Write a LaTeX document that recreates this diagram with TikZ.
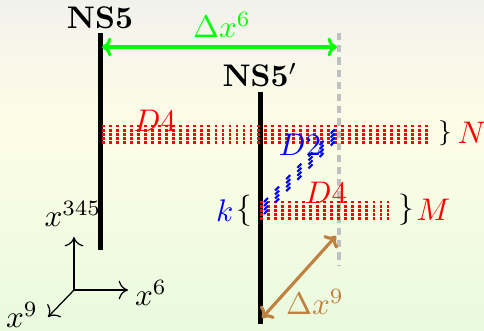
\documentclass[tikz,border=0pt]{standalone}
\usepackage{amsmath}
\usepackage{tikz}
\usepackage{xcolor}
\usetikzlibrary{positioning, arrows.meta, calc}
\definecolor{bgTop}{RGB}{242,242,237}
\definecolor{bgMid}{RGB}{253,253,230}
\definecolor{bgBot}{RGB}{233,250,222}
\definecolor{ghostGray}{RGB}{192,192,192}

\begin{document}
\begin{tikzpicture}[
  x=0.32pt, y=-0.32pt,
  >={To[length=3pt, width=6pt]},
  brane/.style={line width=1.6pt},
  dfour/.style={red, line width=0.9pt, dash pattern=on 0.9pt off 1.35pt},
  dtwo/.style={blue, line width=0.68pt, dash pattern=on 1.8pt off 3.3pt},
  tag/.style={inner sep=0pt},
]
  % Background
  \shade[top color=bgTop, bottom color=bgMid] (0,0) rectangle (484,130);
  \shade[top color=bgMid, bottom color=bgBot] (0,130) rectangle (484,330);
  \useasboundingbox (0,0) rectangle (484,330);

  % Branes
  \coordinate (ns5top) at (100,33);
  \coordinate (ns5bot) at (100,250);
  \coordinate (nspTop) at (260,92);
  \coordinate (nspBot) at (260,324);
  \coordinate (ghostTop) at (339,33);
  \coordinate (ghostBot) at (339,265);
  \draw[brane] (ns5top) -- (ns5bot);
  \draw[brane] (nspTop) -- (nspBot);
  \draw[ghostGray, line width=1.3pt, dash pattern=on 2.3pt off 1.6pt] (ghostTop) -- (ghostBot);
  \node[tag, above=1pt of ns5top, font=\bfseries] (ns5) {NS5};
  \node[tag, above=1.5pt of nspTop, font=\bfseries] (nsp) {NS5$'$};

  % Separation along x6
  \coordinate (gapL) at (102,47);
  \coordinate (gapR) at (337,47);
  \draw[<->, green, line width=1pt] (gapL) -- (gapR);
  \node[green] (dx6) at (222,25) {$\Delta x^6$};

  % D4 stacks
  \coordinate (topL) at (102,126);
  \coordinate (topR) at (432,126);
  \coordinate (lowL) at (260,202);
  \coordinate (lowR) at (392,202);
  \foreach \o in {0,...,4} {
    \draw[dfour] ($(topL)+(0,4.1*\o)$) -- ($(topR)+(0,4.1*\o)$);
    \draw[dfour] ($(lowL)+(0,4.1*\o)$) -- ($(lowR)+(0,4.1*\o)$);
  }
  \node[red] (d4top) at (155,121) {$D4$};
  \node[red] (d4low) at (326,193) {$D4$};

  % D2 stack
  \coordinate (dtwoA) at (264,202);
  \coordinate (dtwoB) at (340,124);
  \foreach \o in {0,...,3}
    \draw[dtwo] ($(dtwoA)+(0,4*\o)$) -- ($(dtwoB)+(0,4*\o)$);
  \node[blue] (d2) at (300,145) {$D2$};

  % Multiplicities
  \node[tag, font=\footnotesize] (braceN) at (445,133) {$\}$};
  \node[tag, red, right=1.5pt of braceN] (numN) {$N$};
  \node[tag] (braceM) at (406,210) {$\}$};
  \node[tag, red, right=0.5pt of braceM] (numM) {$M$};
  \node[tag] (braceK) at (244,211) {$\{$};
  \node[tag, blue, left=0.5pt of braceK] (numK) {$k$};

  % Separation along x9
  \coordinate (sepLow) at (262,318);
  \coordinate (sepUp) at (336,236);
  \draw[<->, brown, line width=1pt] (sepLow) -- (sepUp);
  \node[brown] (dx9) at (315,302) {$\Delta x^9$};

  % Axes
  \coordinate (orig) at (74,290);
  \coordinate (axUp) at (74,237);
  \coordinate (axRight) at (128,290);
  \coordinate (axDiag) at (48,317);
  \draw[->, thin] (orig) -- (axUp);
  \draw[->, thin] (orig) -- (axRight);
  \draw[->, thin] (orig) -- (axDiag);
  \node[tag] (lblUp) at (73,214) {$x^{345}$};
  \node[tag] (lblRight) at (151,293) {$x^6$};
  \node[tag] (lblDiag) at (22,315) {$x^9$};
\end{tikzpicture}
\end{document}
